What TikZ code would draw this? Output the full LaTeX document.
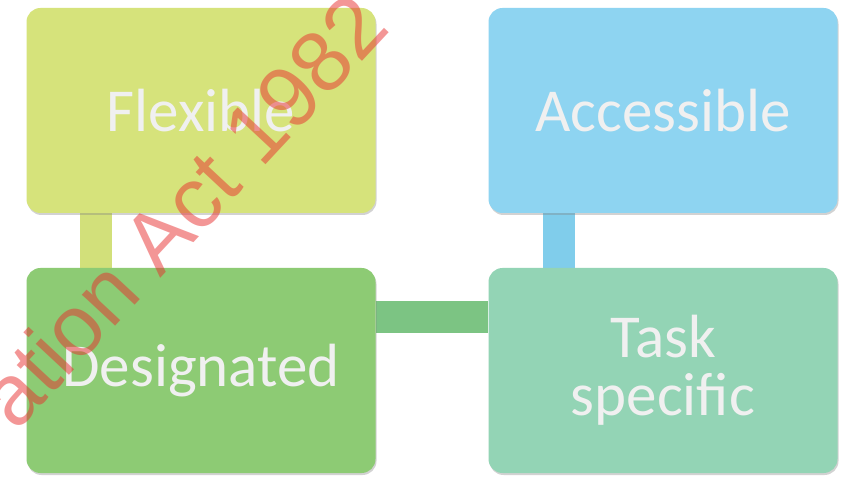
\documentclass[tikz,border=0pt]{standalone}
\usepackage{fontspec}
\setmainfont{Carlito}
\newfontfamily\wmfont{Liberation Sans}
\usetikzlibrary{calc,backgrounds,shadows}
\definecolor{cflex}{HTML}{D6E37B}
\definecolor{cdes}{HTML}{8DCB74}
\definecolor{cacc}{HTML}{8ED4F1}
\definecolor{ctask}{HTML}{93D4B5}
\definecolor{lflex}{HTML}{D2E07A}
\definecolor{ldes}{HTML}{7CC483}
\definecolor{lacc}{HTML}{80CDEB}
\definecolor{wm}{HTML}{E82E2E}
\tikzset{
  box/.style={rounded corners=14pt, minimum width=349pt, minimum height=205pt,
    inner sep=0pt, align=center, font=\fontsize{61}{60}\selectfont,
    text=white!94!black, drop shadow={shadow xshift=1pt, shadow yshift=-2pt, opacity=0.35}},
  conn/.style={line width=32pt},
}
\begin{document}
\begin{tikzpicture}[x=1pt,y=1pt]
\useasboundingbox (0,0) rectangle (846,482);
\node[box, fill=cflex] (flex) at (201,371.5) {Flexible};
\node[box, fill=cdes] (des) at (201,111.5) {Designated};
\node[box, fill=cacc] (acc) at (663,371.5) {Accessible};
\node[box, fill=ctask] (task) at (663,111.5) {Task\\[-2pt]specific};
\begin{pgfonlayer}{background}
\fill[white] (0,0) rectangle (846,482);
\draw[conn, lflex] ($(flex.south west)+(69.5,0)$) -- ($(des.north west)+(69.5,0)$);
\draw[conn, lacc] ($(acc.south west)+(71,0)$) -- ($(task.north west)+(71,0)$);
\draw[conn, ldes] ($(des.east)+(0,53)$) -- ($(task.west)+(0,53)$);
\end{pgfonlayer}
\begin{scope}
\clip (0,0) rectangle (846,482);
\node[text=wm, opacity=0.5, rotate=47, font=\wmfont\fontsize{86}{86}\selectfont, inner sep=0pt] (wmark) at (182,272) {ation Act 1982};
\end{scope}
\end{tikzpicture}
\end{document}
